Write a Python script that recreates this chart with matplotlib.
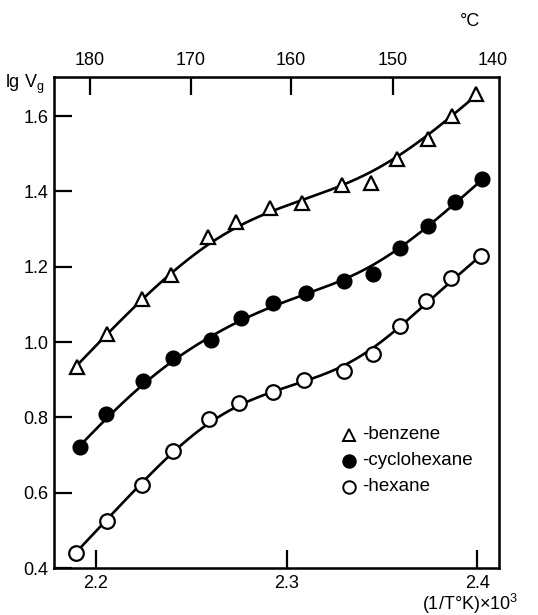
import numpy as np
import matplotlib
matplotlib.use("Agg")
import matplotlib.pyplot as plt

plt.rcParams['font.family'] = ['Liberation Sans', 'DejaVu Sans']

# 1/T (K) x 10^3
x_benzene = [2.1899, 2.2056, 2.2243, 2.2392, 2.2590, 2.2733, 2.2913,
             2.3080, 2.3290, 2.3444, 2.3582, 2.3741, 2.3867, 2.3995]
y_benzene = [0.935, 1.021, 1.114, 1.178, 1.280, 1.320, 1.355,
             1.369, 1.417, 1.423, 1.486, 1.539, 1.600, 1.659]

x_cyclohexane = [2.1915, 2.2055, 2.2248, 2.2405, 2.2603, 2.2760, 2.2930,
                 2.3100, 2.3303, 2.3455, 2.3598, 2.3740, 2.3884, 2.4027]
y_cyclohexane = [0.721, 0.809, 0.897, 0.959, 1.006, 1.063, 1.105,
                 1.131, 1.163, 1.180, 1.249, 1.308, 1.371, 1.433]

x_hexane = [2.1895, 2.2056, 2.2243, 2.2403, 2.2593, 2.2751, 2.2930,
            2.3092, 2.3302, 2.3453, 2.3596, 2.3732, 2.3864, 2.4020]
y_hexane = [0.441, 0.525, 0.620, 0.711, 0.796, 0.839, 0.868,
            0.899, 0.924, 0.968, 1.044, 1.110, 1.171, 1.229]

bottom_ticks = [2.2, 2.3, 2.4]
bottom_labels = ["2.2", "2.3", "2.4"]
left_ticks = [0.4, 0.6, 0.8, 1.0, 1.2, 1.4, 1.6]
top_labels = ["180", "170", "160", "150", "140"]
top_tick_pos = [2.1969, 2.2499, 2.3024, 2.3559, 2.4084]


def smooth_curve(xs, ys, lam, n=240, end_weight=6.0):
    """Penalised (Whittaker-type) smoothing curve on a fine grid."""
    xs = np.asarray(xs, float)
    ys = np.asarray(ys, float)
    grid = np.linspace(xs.min(), xs.max(), n)
    t = (xs - xs.min()) / (xs.max() - xs.min()) * (n - 1)
    B = np.zeros((len(xs), n))
    for i, ti in enumerate(t):
        j = min(int(np.floor(ti)), n - 2)
        fr = ti - j
        B[i, j] = 1 - fr
        B[i, j + 1] = fr
    w = np.ones(len(xs))
    w[0] = w[-1] = end_weight
    W = np.diag(w)
    D = np.diff(np.eye(n), 2, axis=0)
    h = 1.0 / (n - 1)
    A = B.T @ W @ B + lam * h ** -3 * (D.T @ D)
    f = np.linalg.solve(A, B.T @ W @ ys)
    return grid, f


fig = plt.figure(figsize=(5.38, 6.15), dpi=100)
ax = fig.add_axes([0.1004, 0.0764, 0.8271, 0.7984])
ax.set_xlim(2.178, 2.4115)
ax.set_ylim(0.4, 1.704)

lw = 1.9
for xs, ys, marker, face, ms, lam in [
        (x_benzene, y_benzene, '^', 'white', 10, 2e-3),
        (x_cyclohexane, y_cyclohexane, 'o', 'black', 10, 1.2e-3),
        (x_hexane, y_hexane, 'o', 'white', 10.5, 6e-4)]:
    gx, gy = smooth_curve(xs, ys, lam)
    ax.plot(gx, gy, color='black', lw=lw, zorder=2)
    ax.plot(xs, ys, linestyle='none', marker=marker, ms=ms,
            mfc=face, mec='black', mew=1.6, zorder=3)

for sp in ax.spines.values():
    sp.set_linewidth(1.8)

ax.set_xticks(bottom_ticks)
ax.set_xticklabels(bottom_labels)
ax.set_yticks(left_ticks)
ax.set_yticklabels([f"{v:.1f}" for v in left_ticks])
ax.tick_params(direction='in', length=13, width=1.6, labelsize=13, pad=5)
ax.tick_params(axis='y', pad=4)

ax2 = ax.twiny()
ax2.set_xlim(ax.get_xlim())
ax2.set_xticks(top_tick_pos)
ax2.set_xticklabels(top_labels)
ax2.tick_params(direction='in', length=13, width=1.6, labelsize=13, pad=6)
last = ax2.xaxis.get_major_ticks()[-1]
last.tick1line.set_visible(False)
last.tick2line.set_visible(False)

fig.text(25 / 538, 1 - 84 / 615, r"lg V$_\mathregular{g}$", ha='center',
         va='center', fontsize=13)
fig.text(470 / 538, 1 - 22 / 615, "°C", ha='center', va='center', fontsize=13)
fig.text(470 / 538, 1 - 604 / 615, r"(1/T°K)×10$^\mathregular{3}$",
         ha='center', va='center', fontsize=13)

# legend drawn as markers with text
leg = [('^', 'white', "-benzene"),
       ('o', 'black', "-cyclohexane"),
       ('o', 'white', "-hexane")]
for i, (m, f, t) in enumerate(leg):
    yy = 0.271 - i * 0.053
    ax.plot([0.663], [yy], transform=ax.transAxes, marker=m, ms=9,
            mfc=f, mec='black', mew=1.4, linestyle='none', clip_on=False)
    ax.text(0.693, yy, t, transform=ax.transAxes, va='center', ha='left',
            fontsize=13.5)

fig.savefig("out.png", dpi=100)
